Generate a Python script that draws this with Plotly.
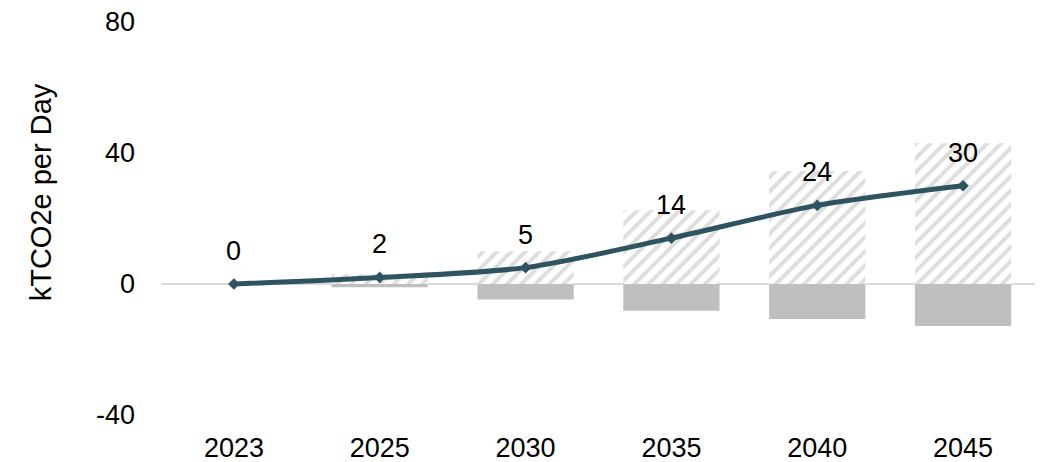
import plotly.graph_objects as go

years = ["2023", "2025", "2030", "2035", "2040", "2045"]
positive = [0, 3, 10, 22.5, 34.5, 43]
negative = [0, -1, -4.7, -8.2, -10.7, -12.8]
net = [0, 2, 5, 14, 24, 30]
net_labels = ["0", "2", "5", "14", "24", "30"]
y_ticks = [-40, 0, 40, 80]
y_tick_text = ["-40", "0", "40", "80"]
y_title = "kTCO2e per Day"

font = "Liberation Sans, Arial, sans-serif"
fs = 27

fig = go.Figure()
fig.add_trace(go.Bar(
    x=years, y=positive, width=0.66,
    marker=dict(color="white", line=dict(width=0),
                pattern=dict(shape="/", fgcolor="#BBBBBB", bgcolor="white", size=10, solidity=0.4)),
    showlegend=False, hoverinfo="skip"))
fig.add_trace(go.Bar(
    x=years, y=negative, width=0.66,
    marker=dict(color="#BFBFBF", line=dict(width=0)),
    showlegend=False, hoverinfo="skip"))
fig.add_trace(go.Scatter(
    x=years, y=net, mode="lines+markers",
    line=dict(color="#2F5461", width=5, shape="spline", smoothing=0.8),
    marker=dict(symbol="diamond", size=9, color="#2F5461"),
    showlegend=False))
# category axis: annotation positions given as category index
for i, (yv, t) in enumerate(zip(net, net_labels)):
    fig.add_annotation(x=i, y=yv, xref="x", yref="y", text=t, showarrow=False, yshift=33,
                       font=dict(size=fs, color="#000000", family=font))

# y-axis title placed as rotated annotation
fig.add_annotation(x=-0.137, y=0.567, xref="paper", yref="paper", text=y_title,
                   textangle=-90, showarrow=False, xanchor="center", yanchor="middle",
                   font=dict(size=29, color="#000000", family=font))

# page body has an 8px margin: figure is 1035x454 placed at (8, 8)
fig.update_layout(
    width=1035, height=454,
    margin=dict(l=153, r=7, t=14, b=47),
    paper_bgcolor="white", plot_bgcolor="white",
    barmode="relative",
    font=dict(family=font, size=fs, color="#000000"),
    xaxis=dict(type="category", showgrid=False, showline=False, ticks="",
               tickfont=dict(size=fs), zeroline=False, range=[-0.5, 5.5],
               automargin=False, ticklabelstandoff=14, ticklabeloverflow="allow"),
    yaxis=dict(range=[-40, 80], tickvals=y_ticks, ticktext=y_tick_text,
               showgrid=False, zeroline=True,
               zerolinecolor="#D9D9D9", zerolinewidth=2, showline=False,
               tickfont=dict(size=fs), ticklabelstandoff=25, automargin=False,
               ticklabeloverflow="allow"),
)
fig.write_html("out.html")
